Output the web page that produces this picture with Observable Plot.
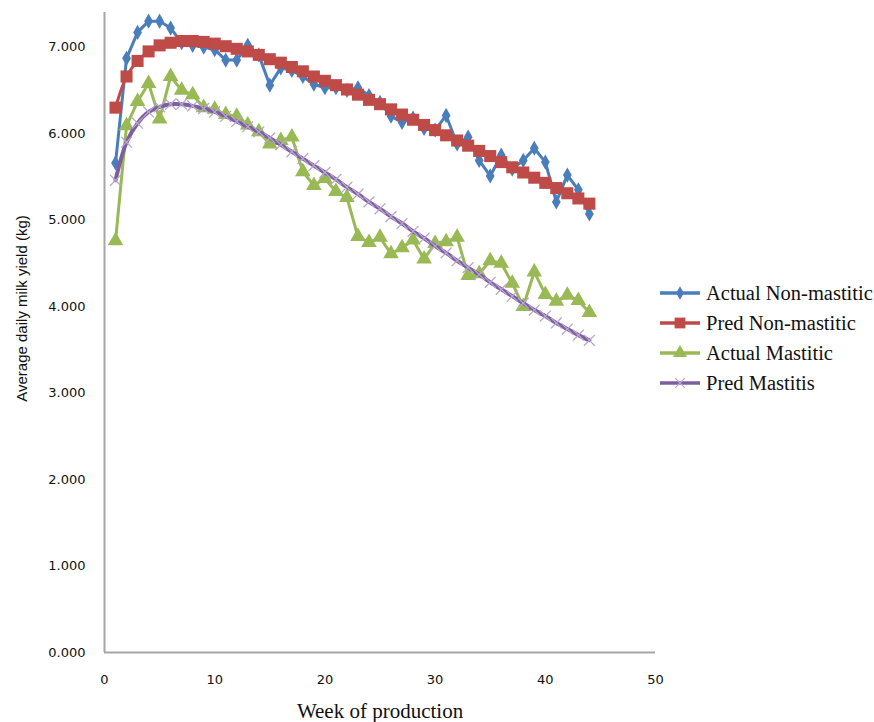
<!DOCTYPE html>
<html><head><meta charset="utf-8">
<script src="https://cdn.jsdelivr.net/npm/d3@7"></script>
<script src="https://cdn.jsdelivr.net/npm/@observablehq/plot@0.6"></script>
<style>
body{margin:0;background:#fff;}
#wrap{position:relative;width:874px;height:722px;overflow:hidden;}
#legend{position:absolute;left:658px;top:278px;color:#111;white-space:nowrap;}
#legend .row{display:flex;align-items:center;height:30px;}
#legend span{font-family:"Liberation Serif","DejaVu Serif","Times New Roman",serif !important;font-size:20.5px;}
#legend svg{margin-right:4px;}
</style></head>
<body><div id="wrap"><div id="legend"></div></div>
<script>
const weeks = d3.range(1, 45);
const actualNonMastitic = [5.66,6.87,7.17,7.30,7.30,7.22,7.05,7.02,7.00,6.97,6.85,6.85,7.02,6.91,6.56,6.76,6.73,6.66,6.57,6.53,6.53,6.50,6.53,6.44,6.36,6.20,6.13,6.18,6.06,6.04,6.21,5.88,5.96,5.69,5.51,5.75,5.59,5.69,5.83,5.67,5.21,5.52,5.35,5.07];
const predNonMastitic = [6.30,6.66,6.84,6.95,7.02,7.05,7.07,7.07,7.06,7.04,7.01,6.98,6.95,6.91,6.86,6.82,6.77,6.72,6.66,6.61,6.56,6.51,6.45,6.39,6.34,6.28,6.22,6.16,6.10,6.04,5.98,5.92,5.86,5.80,5.74,5.67,5.61,5.55,5.49,5.43,5.37,5.31,5.25,5.19];
const actualMastitic = [4.76,6.09,6.37,6.58,6.17,6.66,6.50,6.45,6.30,6.28,6.22,6.20,6.10,6.02,5.88,5.92,5.96,5.56,5.40,5.48,5.33,5.26,4.81,4.74,4.80,4.61,4.68,4.77,4.55,4.73,4.75,4.80,4.36,4.38,4.53,4.50,4.27,4.00,4.40,4.14,4.06,4.13,4.07,3.93];
const predMastitis = [5.46,5.90,6.12,6.25,6.31,6.34,6.34,6.32,6.29,6.25,6.20,6.14,6.08,6.02,5.95,5.87,5.79,5.71,5.63,5.55,5.47,5.38,5.30,5.21,5.13,5.04,4.96,4.87,4.79,4.70,4.62,4.53,4.45,4.37,4.28,4.20,4.12,4.04,3.96,3.89,3.81,3.74,3.67,3.61];
const seriesNames = ["Actual Non-mastitic","Pred Non-mastitic","Actual Mastitic","Pred Mastitis"];
const xTicks = [0,10,20,30,40,50];
const yTicks = [0,1,2,3,4,5,6,7];

const colors = ["#4A7EBB","#BE4B48","#98B954","#7D5FA0"];
const symbols = ["diamond","square","triangle","times"];
const radii = [4.6,6.8,5.8,5];
const allSeries = [actualNonMastitic,predNonMastitic,actualMastitic,predMastitis];

const marks = [
  Plot.ruleX([0],{stroke:"#A6A6A6",strokeWidth:2}),
  Plot.ruleY([0],{stroke:"#A6A6A6",strokeWidth:2}),
  Plot.axisX({ticks:xTicks,tickSize:0,tickPadding:22,fontSize:13,fontFamily:"DejaVu Sans",fill:"#111",label:null}),
  Plot.axisX({ticks:[],tickSize:0,fontSize:21,fontFamily:"Liberation Serif, DejaVu Serif, serif",label:"Week of production",labelAnchor:"center",labelArrow:"none",labelOffset:65}),
  Plot.axisY({ticks:yTicks,tickSize:0,tickPadding:19,fontSize:13,fontFamily:"DejaVu Sans",fill:"#111",tickFormat:d3.format(".3f"),label:null}),
  Plot.axisY({ticks:[],tickSize:0,fontSize:15,fontFamily:"Liberation Sans, Arial, sans-serif",label:"Average daily milk yield (kg)",labelAnchor:"center",labelArrow:"none",labelOffset:88})
];
allSeries.forEach((vals,i)=>{
  const data = weeks.map((w,j)=>({week:w,value:vals[j]}));
  const smooth = i===1||i===3;
  marks.push(Plot.line(data,{x:"week",y:"value",stroke:colors[i],strokeWidth:i===3?4:3,curve:smooth?"catmull-rom":"linear"}));
  if(symbols[i]==="times"){
    marks.push(Plot.dot(data,{x:"week",y:"value",symbol:"times",r:radii[i],stroke:"#B7A6CF",strokeWidth:1.3}));
  } else {
    marks.push(Plot.dot(data,{x:"week",y:"value",symbol:symbols[i],r:radii[i],fill:colors[i],stroke:"none"}));
  }
});

const chart = Plot.plot({
  width:874,height:722,
  marginLeft:104,marginRight:219,marginTop:12,marginBottom:70,
  x:{domain:[0,50]},
  y:{domain:[0,7.4]},
  style:{background:"#fff",color:"#111"},
  marks
});
document.getElementById("wrap").prepend(chart);
// shift y label up to match the reference placement
d3.select(chart).selectAll('g[aria-label="y-axis label"] text').attr("dx", 24);

// legend
const leg = d3.select("#legend");
seriesNames.forEach((name,i)=>{
  const row = leg.append("div").attr("class","row");
  const s = row.append("svg").attr("width",44).attr("height",20);
  s.append("line").attr("x1",2).attr("x2",42).attr("y1",10).attr("y2",10).attr("stroke",colors[i]).attr("stroke-width",3.5);
  const sym = {diamond:d3.symbolDiamond,square:d3.symbolSquare,triangle:d3.symbolTriangle,times:d3.symbolTimes}[symbols[i]];
  const path = d3.symbol(sym, Math.PI*radii[i]*radii[i]*0.8)();
  const p = s.append("path").attr("d",path).attr("transform","translate(22,10)");
  if(symbols[i]==="times") p.attr("fill","none").attr("stroke","#B7A6CF").attr("stroke-width",1.3);
  else p.attr("fill",colors[i]);
  row.append("span").text(name);
});
</script></body></html>
